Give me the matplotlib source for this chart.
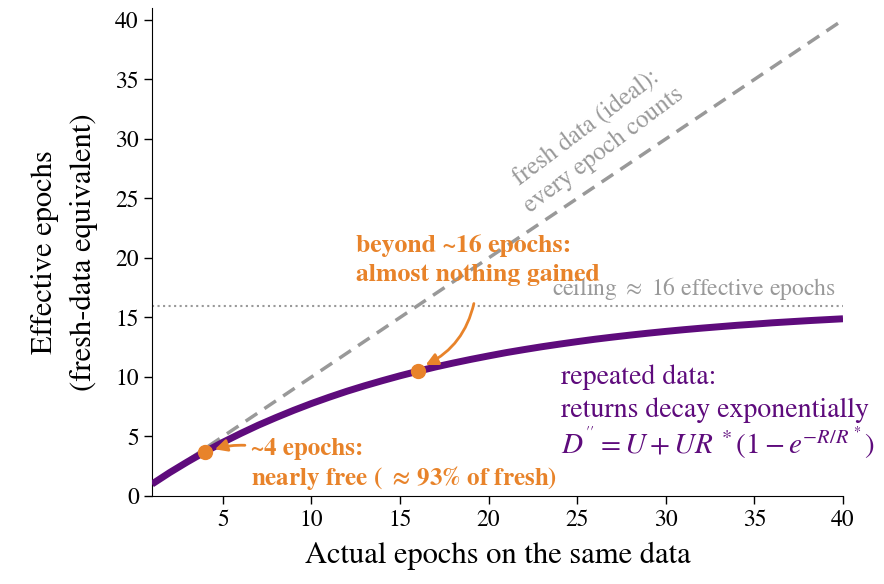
import matplotlib
matplotlib.use("Agg")
import matplotlib.pyplot as plt

plt.rcParams['font.family'] = ['STIXGeneral', 'DejaVu Serif']
plt.rcParams['mathtext.fontset'] = 'stix'

# Data
epochs = list(range(1, 41))
effective = [1.00, 1.97, 2.87, 3.72, 4.51, 5.25, 5.95, 6.59, 7.20, 7.77,
             8.30, 8.80, 9.26, 9.69, 10.10, 10.48, 10.84, 11.17, 11.48, 11.77,
             12.05, 12.30, 12.54, 12.76, 12.97, 13.17, 13.35, 13.52, 13.68, 13.83,
             13.97, 14.10, 14.22, 14.34, 14.44, 14.55, 14.64, 14.73, 14.81, 14.89]
fresh_x = [1, 40]
fresh_y = [1, 40]
ceiling = 16
marked_x = [4, 16]
marked_y = [3.72, 10.48]
xticks = [5, 10, 15, 20, 25, 30, 35, 40]
yticks = [0, 5, 10, 15, 20, 25, 30, 35, 40]

purple = '#5e0b7c'
orange = '#e8832a'
gray = '#999999'

fig = plt.figure(figsize=(8.84, 5.84), dpi=100)
ax = fig.add_axes([152/884, 1-496/584, (843-152)/884, (496-8)/584])

ax.plot(fresh_x, fresh_y, ls=(0, (4, 2.5)), color=gray, lw=2.5, zorder=2)
ax.axhline(ceiling, color=gray, ls=':', lw=1.5, zorder=1)
ax.plot(epochs, effective, color=purple, lw=5, solid_capstyle='butt', zorder=3)
ax.plot(marked_x, marked_y, 'o', color=orange, ms=10, zorder=5)

ax.set_xlim(1, 40)
ax.set_ylim(0, 41)
ax.set_xticks(xticks)
ax.set_yticks(yticks)
ax.tick_params(labelsize=17, length=6, width=1)
for s in ['top', 'right']:
    ax.spines[s].set_visible(False)

ax.set_xlabel('Actual epochs on the same data', fontsize=22, labelpad=8)
ax.set_ylabel('Effective epochs\n(fresh-data equivalent)', fontsize=22, labelpad=12,
              linespacing=1.5)

ax.text(39.6, 16.3, r'ceiling $\approx$ 16 effective epochs', color=gray,
        fontsize=17, ha='right', va='bottom', zorder=4)

ax.text(26.0, 30.0, 'fresh data (ideal):\nevery epoch counts', color=gray,
        fontsize=18, rotation=37, ha='center', va='center',
        rotation_mode='anchor', linespacing=1.3)

ax.text(12.5, 19.8, 'beyond ~16 epochs:\nalmost nothing gained', color=orange,
        fontsize=18.5, fontweight='bold', ha='left', va='center', linespacing=1.38, zorder=4)
ax.annotate('', xy=(16.3, 10.9), xytext=(19.2, 16.4),
            arrowprops=dict(arrowstyle='-|>', color=orange, lw=2,
                            mutation_scale=18, connectionstyle='arc3,rad=-0.25'),
            zorder=6)

ax.text(6.6, 2.6, '~4 epochs:\nnearly free ( $\\mathbf{\\approx}\\,$93% of fresh)', color=orange,
        fontsize=18, fontweight='bold', ha='left', va='center', linespacing=1.15)
ax.annotate('', xy=(4.4, 3.85), xytext=(6.4, 4.25),
            arrowprops=dict(arrowstyle='-|>', color=orange, lw=2,
                            mutation_scale=18, connectionstyle='arc3,rad=0.1'),
            zorder=6)

ax.text(24.1, 8.6, 'repeated data:\nreturns decay exponentially', color=purple,
        fontsize=20, ha='left', va='center', linespacing=1.4)
ax.text(24.1, 4.4, r"$D^{''} = U + U R^{\,*}(1 - e^{-R/R^{\,*}})$", color=purple,
        fontsize=21, ha='left', va='center')

fig.savefig('out.png', dpi=100)
